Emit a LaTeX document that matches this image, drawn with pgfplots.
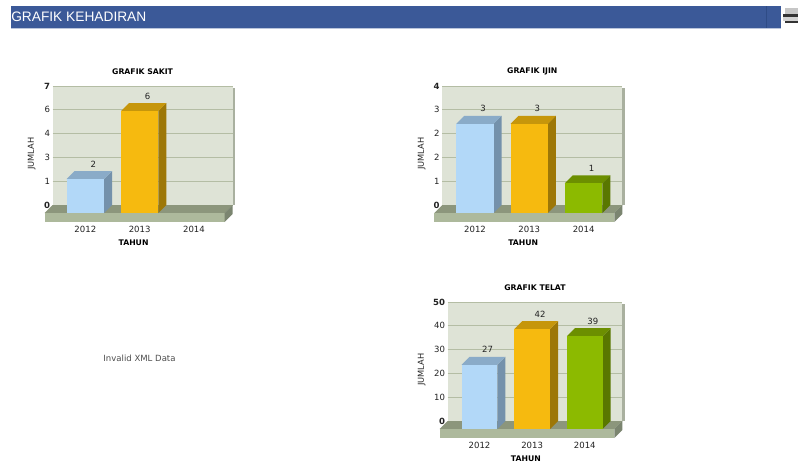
\documentclass[border=0pt]{standalone}
\usepackage{fontspec}
\setmainfont{DejaVu Sans}
\newfontfamily\arialfont{Liberation Sans}
\usepackage{pgfplots}
\pgfplotsset{compat=1.18}

% 1px of the screenshot = 0.75pt
\definecolor{headblue}{HTML}{3B5998}
\definecolor{headline}{HTML}{2F4C86}
\definecolor{wall}{HTML}{DEE3D6}
\definecolor{wallshadow}{HTML}{A9B09F}
\definecolor{gridc}{HTML}{B4BDA4}
\definecolor{floorback}{HTML}{8C967C}
\definecolor{floorfront}{HTML}{ADB99C}
\definecolor{floorside}{HTML}{7B8570}
\definecolor{bluef}{HTML}{B2D8F8}
\definecolor{bluet}{HTML}{8AABC8}
\definecolor{blues}{HTML}{7491AB}
\definecolor{yellowf}{HTML}{F6BA0F}
\definecolor{yellowt}{HTML}{C6960B}
\definecolor{yellows}{HTML}{9D7707}
\definecolor{greenf}{HTML}{8CBA00}
\definecolor{greent}{HTML}{6C8F00}
\definecolor{greens}{HTML}{597700}
\definecolor{txt}{HTML}{222222}

% one bar: data point = middle of the top of the back face, depth 6pt
\newcommand\drawbar[3]{%
  \pgfmathsetmacro\hh{\barval*\pxunit*0.75}%
  \pgfmathsetmacro\wh{\barw*0.375}%
  \pgfmathsetmacro\xl{-\wh-6}%
  \pgfmathsetmacro\xr{\wh-6}%
  \pgfmathsetmacro\yb{-\hh-6}%
  \pgfsetfillcolor{#3}%
  \pgfpathmoveto{\pgfpoint{\wh pt}{0pt}}%
  \pgfpathlineto{\pgfpoint{\wh pt}{-\hh pt}}%
  \pgfpathlineto{\pgfpoint{\xr pt}{\yb pt}}%
  \pgfpathlineto{\pgfpoint{\xr pt}{-6pt}}%
  \pgfpathclose\pgfusepath{fill}%
  \pgfsetfillcolor{#2}%
  \pgfpathmoveto{\pgfpoint{\xl pt}{-6pt}}%
  \pgfpathlineto{\pgfpoint{-\wh pt}{0pt}}%
  \pgfpathlineto{\pgfpoint{\wh pt}{0pt}}%
  \pgfpathlineto{\pgfpoint{\xr pt}{-6pt}}%
  \pgfpathclose\pgfusepath{fill}%
  \pgfsetfillcolor{#1}%
  \pgfpathmoveto{\pgfpoint{\xl pt}{-6pt}}%
  \pgfpathlineto{\pgfpoint{\xr pt}{-6pt}}%
  \pgfpathlineto{\pgfpoint{\xr pt}{\yb pt}}%
  \pgfpathlineto{\pgfpoint{\xl pt}{\yb pt}}%
  \pgfpathclose\pgfusepath{fill}%
}
\pgfdeclareplotmark{barblue}{\drawbar{bluef}{bluet}{blues}}
\pgfdeclareplotmark{baryellow}{\drawbar{yellowf}{yellowt}{yellows}}
\pgfdeclareplotmark{bargreen}{\drawbar{greenf}{greent}{greens}}

\pgfplotsset{
  /pgf/number format/assume math mode=true,
  bar3d/.style={
    scatter, only marks, mark=#1, scatter src=y,
    visualization depends on={y \as \barval},
    nodes near coords,
    every node near coord/.style={anchor=center,yshift=5.2pt,font=\fontsize{6.4}{7}\selectfont,text=txt},
  },
  % #1 ylabel distance from the wall (px)
  chart/.style={
    scale only axis, clip=false, enlargelimits=false,
    axis background/.style={fill=wall},
    axis line style={draw=none}, major tick length=0pt,
    ymin=0, ymajorgrids, grid style={gridc,line width=0.7pt},
    xtick={0,1,2}, xticklabels={2012,2013,2014},
    tick label style={font=\fontsize{6.4}{7}\selectfont,text=txt},
    x tick label style={anchor=center,xshift=-6pt,yshift=-18pt},
    y tick label style={anchor=east,xshift=1.5pt},
    title style={font=\bfseries\fontsize{5.8}{7}\selectfont,text=black,
      at={(axis description cs:0.5,1)},anchor=center,yshift=5pt},
    xlabel=TAHUN, ylabel=JUMLAH,
    every axis x label/.style={at={(axis description cs:0.5,0)},anchor=center,
      xshift=-6.8pt,yshift=-28.2pt,font=\bfseries\fontsize{5.8}{7}\selectfont,text=black},
    every axis y label/.style={at={(axis description cs:0,0.43)},xshift=-#1*0.75pt,
      anchor=center,rotate=90,font=\fontsize{6.2}{7}\selectfont,text=txt},
    execute at begin axis={
      \fill[wallshadow] ([xshift=0pt,yshift=-1.5pt]rel axis cs:1,1) rectangle ([xshift=1.8pt]rel axis cs:1,0);
      \fill[floorback] (rel axis cs:0,0) -- (rel axis cs:1,0) -- ([shift={(-6pt,-6pt)}]rel axis cs:1,0) -- ([shift={(-6pt,-6pt)}]rel axis cs:0,0) -- cycle;
      \fill[floorfront] ([shift={(-6pt,-6pt)}]rel axis cs:0,0) rectangle ([shift={(-6pt,-12.8pt)}]rel axis cs:1,0);
      \fill[floorside] (rel axis cs:1,0) -- ([shift={(-6pt,-6pt)}]rel axis cs:1,0) -- ([shift={(-6pt,-12.8pt)}]rel axis cs:1,0) -- ([yshift=-6.8pt]rel axis cs:1,0) -- cycle;
    },
  },
}

\begin{document}
\begin{tikzpicture}[x=0.75pt,y=-0.75pt]
\path[use as bounding box] (0,0) rectangle (798,462);
\coordinate (sakit) at (52.7,205);
\coordinate (ijin) at (442.3,205);
\coordinate (telat) at (447.7,421);

% header bar
\fill[headblue] (11,6) rectangle (781,28);
\fill[headline] (765.5,6) rectangle (766.5,28);
\draw[headblue!35,line width=0.5pt] (11,28.3) -- (781,28.3);
\node[anchor=west,inner sep=0pt,text=white,font=\arialfont\fontsize{10.3}{12}\selectfont] at (11,17) {GRAFIK KEHADIRAN};

% printer icon
\fill[gray!45] (785,8) rectangle (798,14);
\fill[black!80] (783,14) rectangle (798,17);
\fill[gray!35] (783,17) rectangle (798,21);
\fill[black!80] (785,21) rectangle (798,23);

% no data chart
\node[anchor=center,inner sep=0pt,text=black!70,font=\fontsize{6.4}{8}\selectfont] at (139.5,358.5) {Invalid XML Data};

% GRAFIK SAKIT
\def\pxunit{17}\def\barw{37.3}
\begin{axis}[chart=21, at={(sakit)}, anchor=south west,
  width=134.85pt, height=89.25pt, title={GRAFIK SAKIT},
  xmin=-0.7486, xmax=2.5626, ymax=7,
  ytick={0,1.4,2.8,4.2,5.6,7},
  yticklabels={\textbf{0},1,3,4,6,\textbf{7}}]
\addplot[bar3d=barblue] coordinates {(0,2)};
\addplot[bar3d=baryellow] coordinates {(1,6)};
\end{axis}

% GRAFIK IJIN
\def\pxunit{29.75}
\begin{axis}[chart=20.6, at={(ijin)}, anchor=south west,
  width=135pt, height=89.25pt, title={GRAFIK IJIN},
  xmin=-0.7495, xmax=2.5654, ymax=4,
  ytick={0,0.8,1.6,2.4,3.2,4},
  yticklabels={\textbf{0},1,2,2,3,\textbf{4}}]
\addplot[bar3d=barblue] coordinates {(0,3)};
\addplot[bar3d=baryellow] coordinates {(1,3)};
\addplot[bar3d=bargreen] coordinates {(2,1)};
\end{axis}

% GRAFIK TELAT
\def\pxunit{2.38}\def\barw{35.7}
\begin{axis}[chart=26, at={(telat)}, anchor=south west,
  width=130.95pt, height=89.25pt, title={GRAFIK TELAT},
  xmin=-0.756, xmax=2.56, ymax=50,
  ytick={0,10,20,30,40,50},
  yticklabels={\textbf{0},10,20,30,40,\textbf{50}}]
\addplot[bar3d=barblue] coordinates {(0,27)};
\addplot[bar3d=baryellow] coordinates {(1,42)};
\addplot[bar3d=bargreen] coordinates {(2,39)};
\end{axis}
\end{tikzpicture}
\end{document}
